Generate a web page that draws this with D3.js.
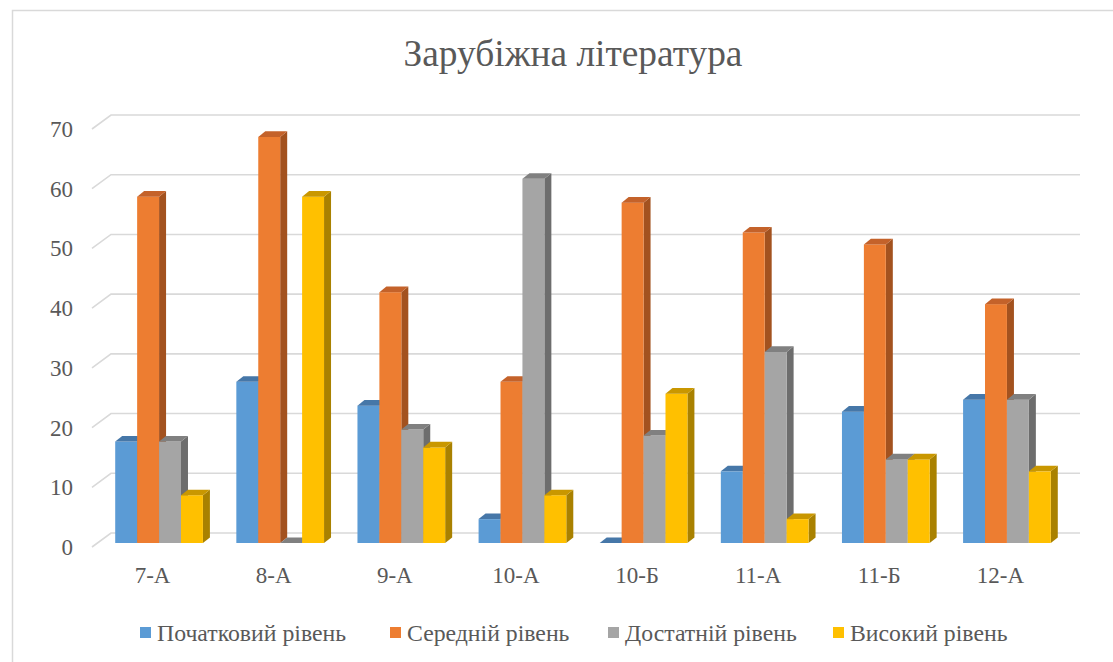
<!DOCTYPE html>
<html><head><meta charset="utf-8">
<script src="https://cdn.jsdelivr.net/npm/d3@7"></script>
<style>
html,body{margin:0;padding:0;background:#fff;}
svg{display:block;}
</style>
</head><body>
<svg id="viz" width="1113" height="662"></svg>
<script>
const title = "Зарубіжна література";
const categories = ["7-А","8-А","9-А","10-А","10-Б","11-А","11-Б","12-А"];
const seriesNames = ["Початковий рівень","Середній рівень","Достатній рівень","Високий рівень"];
const pochatkovyi = [17,27,23,4,0,12,22,24];
const serednii    = [58,68,42,27,57,52,50,40];
const dostatnii   = [17,0,19,61,18,32,14,24];
const vysokyi     = [8,58,16,8,25,4,14,12];
const yTicks = [0,10,20,30,40,50,60,70];

const seriesValues = [pochatkovyi, serednii, dostatnii, vysokyi];
const colors = [
  {front:"#5b9bd5", top:"#4677a8", side:"#3f6e9c"},
  {front:"#ed7d31", top:"#c4622a", side:"#a3521f"},
  {front:"#a5a5a5", top:"#808080", side:"#6d6d6d"},
  {front:"#ffc000", top:"#c99700", side:"#a98100"}
];

const svg = d3.select("#viz");
const FONT = '"Liberation Serif"';
const textColor = "#595959";

// chart border
svg.append("rect").attr("x",12.5).attr("y",10.5).attr("width",1112).attr("height",660)
  .attr("fill","none").attr("stroke","#d9d9d9").attr("stroke-width",1.5);

// title
const tt = svg.append("text").attr("x",573).attr("y",66).attr("text-anchor","middle")
  .style("font-family",FONT).attr("font-size",38).attr("fill",textColor).text(title);
{ const w = tt.node().getComputedTextLength(); if (w>0) tt.attr("font-size", 38*339/w); }

// 3D geometry
const D = {x:19, y:-14};           // wall depth vector
const x0 = 92, x1 = 1061;
const y = d3.scaleLinear().domain([0,70]).range([547,129]);
const x = d3.scaleBand().domain(categories).range([x0,x1]).padding(0);
const groupW = 87.7;
const xs = d3.scaleBand().domain(d3.range(seriesNames.length)).range([0,groupW]).padding(0);
const barOff = {x:6.5, y:-4};      // front face of bars inside the depth
const barDepth = {x:7, y:-5.6};

// gridlines on back wall + left diagonal
const grid = svg.append("g");
yTicks.forEach(v=>{
  grid.append("path")
    .attr("d",`M${x0},${y(v)}L${x0+D.x},${y(v)+D.y}L${x1+D.x},${y(v)+D.y}`)
    .attr("fill","none").attr("stroke","#d9d9d9").attr("stroke-width",1.6);
});

// y-axis labels
svg.append("g").selectAll("text").data(yTicks).join("text")
  .attr("x",73).attr("y",d=>y(d)).attr("dy","0.35em").attr("text-anchor","end")
  .style("font-family",FONT).attr("font-size",23).attr("fill",textColor).text(d=>d);

// bars
const bars = svg.append("g");
categories.forEach((c,ci)=>{
  const gx = x(c) + x.bandwidth()/2 - groupW/2 + barOff.x;
  seriesValues.forEach((vals,si)=>{
    const v = vals[ci];
    const L = gx + xs(si), R = L + xs.bandwidth();
    const B = y(0) + barOff.y, T = y(v) + barOff.y;
    const col = colors[si];
    const g = bars.append("g");
    if (v > 0) {
      g.append("path").attr("d",`M${R},${B}L${R+barDepth.x},${B+barDepth.y}L${R+barDepth.x},${T+barDepth.y}L${R},${T}Z`)
        .attr("fill",col.side);
      g.append("rect").attr("x",L).attr("y",T).attr("width",R-L).attr("height",B-T).attr("fill",col.front);
    }
    g.append("path").attr("d",`M${L},${T}L${L+barDepth.x},${T+barDepth.y}L${R+barDepth.x},${T+barDepth.y}L${R},${T}Z`)
      .attr("fill",col.top);
  });
});

// category labels
svg.append("g").selectAll("text").data(categories).join("text")
  .attr("x",d=>x(d)+x.bandwidth()/2).attr("y",583).attr("text-anchor","middle")
  .style("font-family",FONT).attr("font-size",23).attr("fill",textColor).text(d=>d);

const legX = [140, 390, 608, 833];
const legTargetW = [192, 165, 169, 155];
const leg = svg.append("g");
const legTexts = [];
seriesNames.forEach((n,i)=>{
  const it = leg.append("g").attr("transform",`translate(${legX[i]},633)`);
  it.append("rect").attr("x",0).attr("y",-6).attr("width",11).attr("height",11).attr("fill",colors[i].front);
  legTexts.push(it.append("text").attr("x",17).attr("y",0).attr("dy","0.35em")
    .style("font-family",FONT).attr("font-size",21).attr("fill",textColor).text(n));
});
{
  const measured = d3.sum(legTexts, t => t.node().getComputedTextLength());
  if (measured > 0) {
    const fs = Math.min(24, 21 * d3.sum(legTargetW) / measured);
    legTexts.forEach(t => t.attr("font-size", fs));
  }
}
</script>
</body></html>
